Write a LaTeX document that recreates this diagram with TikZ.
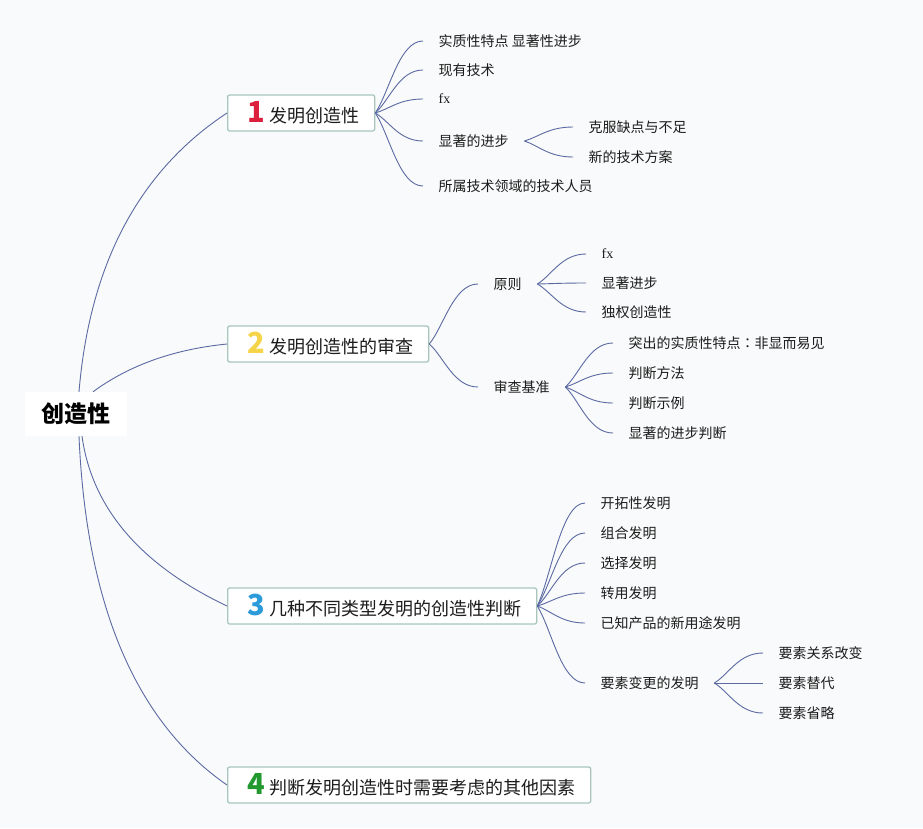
\documentclass[tikz,border=0pt]{standalone}
\usepackage{fontspec}
\setmainfont{Noto Sans CJK SC}
\newfontfamily\fxfont{Liberation Serif}
\newfontfamily\jpfont{Noto Sans CJK JP}
\usetikzlibrary{calc}
\definecolor{bg}{HTML}{F9FAFB}
\definecolor{ln}{HTML}{5B6AA3}
\definecolor{bd}{HTML}{A8C6BC}
\definecolor{txt}{HTML}{1C1C1C}
\definecolor{cone}{HTML}{DC1F3C}
\definecolor{ctwo}{HTML}{F6D44A}
\definecolor{cthree}{HTML}{2B9BDA}
\definecolor{cfour}{HTML}{21992F}
\newcommand\mlab[3]{\hspace*{17.5pt}\makebox[22pt][c]{\textcolor{#1}{\fontsize{29}{29}\selectfont\bfseries #2}}\hspace*{2.5pt}#3\hspace*{15pt}}
\newcommand\brc[2]{\draw[conn] let \p1=(#1.east), \p2=(#2.west) in (\p1) .. controls ($(\p1)!0.3!(\p2)$) and ({0.5*\x1+0.5*\x2},\y2) .. (\p2);}
\begin{document}
\begin{tikzpicture}[x=1pt,y=-1pt,
  conn/.style={draw=ln, line width=0.9pt},
  rootbox/.style={fill=white, text=black, font=\fontsize{23}{26}\selectfont\bfseries, minimum width=102, minimum height=44, inner sep=0},
  mainbox/.style={draw=bd, fill=white, rounded corners=2, line width=1.3pt, minimum height=36, inner xsep=0, inner ysep=0, anchor=west, text=txt, font=\fontsize{18}{20}\selectfont},
  leaf/.style={anchor=west, inner xsep=15.5, inner ysep=2, text=txt, font=\fontsize{14}{16}\selectfont},
]
\fill[bg] (0,0) rectangle (923,828);
\useasboundingbox (0,0) rectangle (923,828);

\node[rootbox] (root) at (76,414) {创造性};
\node[mainbox] (n1) at (227,113) {\mlab{cone}{1}{发明创造性}};
\node[mainbox] (n2) at (227,344) {\mlab{ctwo}{2}{发明创造性的审查}};
\node[mainbox] (n3) at (227,606) {\mlab{cthree}{3}{几种不同类型发明的创造性判断}};
\node[mainbox] (n4) at (227,785) {\mlab{cfour}{4}{判断发明创造性时需要考虑的其他因素}};

\draw[conn] ([xshift=3]root.north) .. controls (89.7,264) and (139,171) .. (n1.west);
\draw[conn] ([xshift=17]root.north) .. controls (129,365.3) and (173.7,349.3) .. (n2.west);
\draw[conn] ([xshift=6]root.south) .. controls (92,508) and (140.3,564.7) .. (n3.west);
\draw[conn] ([xshift=3]root.south) .. controls (86.3,605.3) and (135.7,721.7) .. (n4.west);

% branch 1
\node[leaf] (a1) at (423,41) {实质性特点 显著性进步};
\node[leaf] (a2) at (423,70) {现有技术};
\node[leaf] (a3) at (423,99) {\fxfont fx};
\node[leaf] (a4) at (423,141) {显著的进步};
\node[leaf] (a5) at (423,186) {所属技术领域的技术人员};
\node[leaf] (a41) at (573,127) {克服缺点与不足};
\node[leaf] (a42) at (573,157) {新的技术方案};
\foreach \c in {a1,a2,a3,a4,a5} {\brc{n1}{\c}}
\foreach \c in {a41,a42} {\brc{a4}{\c}}

% branch 2
\node[leaf] (b1) at (478,284) {原则};
\node[leaf] (b2) at (478,387) {审查基准};
\node[leaf] (b11) at (586,254) {\fxfont fx};
\node[leaf] (b12) at (586,283) {显著进步};
\node[leaf] (b13) at (586,312) {独权创造性};
\node[leaf] (b21) at (613,343) {突出的实质性特点{\jpfont ：}非显而易见};
\node[leaf] (b22) at (613,373) {判断方法};
\node[leaf] (b23) at (613,403) {判断示例};
\node[leaf] (b24) at (613,433) {显著的进步判断};
\foreach \c in {b1,b2} {\brc{n2}{\c}}
\foreach \c in {b11,b12,b13} {\brc{b1}{\c}}
\foreach \c in {b21,b22,b23,b24} {\brc{b2}{\c}}

% branch 3
\node[leaf] (c1) at (585,503) {开拓性发明};
\node[leaf] (c2) at (585,533) {组合发明};
\node[leaf] (c3) at (585,563) {选择发明};
\node[leaf] (c4) at (585,593) {转用发明};
\node[leaf] (c5) at (585,623) {已知产品的新用途发明};
\node[leaf] (c6) at (585,683) {要素变更的发明};
\node[leaf] (c61) at (763,653) {要素关系改变};
\node[leaf] (c62) at (763,683) {要素替代};
\node[leaf] (c63) at (763,713) {要素省略};
\foreach \c in {c1,c2,c3,c4,c5,c6} {\brc{n3}{\c}}
\foreach \c in {c61,c62,c63} {\brc{c6}{\c}}
\end{tikzpicture}
\end{document}
